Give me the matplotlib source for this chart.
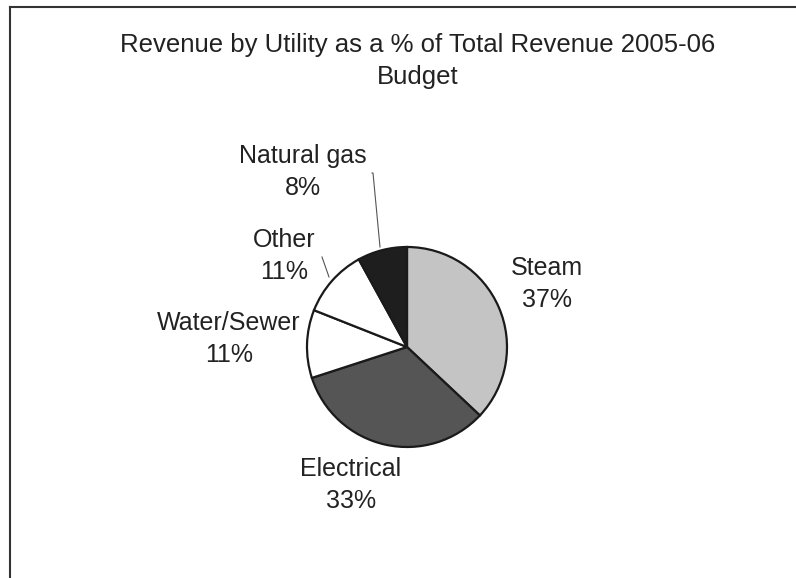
import matplotlib.pyplot as plt

plt.rcParams['font.family'] = ['Liberation Sans', 'DejaVu Sans']

# Data
utilities = ['Steam', 'Electrical', 'Water/Sewer', 'Other', 'Natural gas']
shares = [37, 33, 11, 11, 8]
slice_colors = ['#c4c4c4', '#555555', '#ffffff', '#ffffff', '#1e1e1e']

W, H = 796, 578
fig = plt.figure(figsize=(W / 100, H / 100), dpi=100)
ax = fig.add_axes([0, 0, 1, 1])

# pie in pixel-like coordinates (y measured from bottom)
cx, cy, r = 407, H - 347, 100
ax.pie(shares, colors=slice_colors, startangle=90, counterclock=False,
       center=(cx, cy), radius=r, frame=True,
       wedgeprops=dict(edgecolor='#1a1a1a', linewidth=1.6))
ax.set_xlim(0, W)
ax.set_ylim(0, H)
ax.axis('off')

# label positions (pixel coords from top-left), style only
label_pos = {
    'Steam': (547, 284),
    'Electrical': (351, 485),
    'Water/Sewer': (229, 339),
    'Other': (284, 256),
    'Natural gas': (303, 172),
}
for name, val in zip(utilities, shares):
    x, y = label_pos[name]
    ax.text(x, H - y, f'{name}\n{val}%', ha='center', va='center',
            fontsize=18, color='#222222', linespacing=1.45)

# leader lines
ax.plot([372, 373, 380], [H - 173, H - 173, H - 247], color='#555555', lw=0.8)
ax.plot([322, 329], [H - 257, H - 277], color='#555555', lw=0.8)

# frame of the chart area
ax.plot([10, W], [H - 7, H - 7], color='#333333', lw=1.5)
ax.plot([10, 10], [H - 7, 0], color='#333333', lw=1.5)

fig.text(418 / W, 1 - 61 / H, 'Revenue by Utility as a % of Total Revenue 2005-06\nBudget',
         ha='center', va='center', fontsize=18.5, color='#222222', linespacing=1.4)

plt.savefig('out.png', dpi=100)
